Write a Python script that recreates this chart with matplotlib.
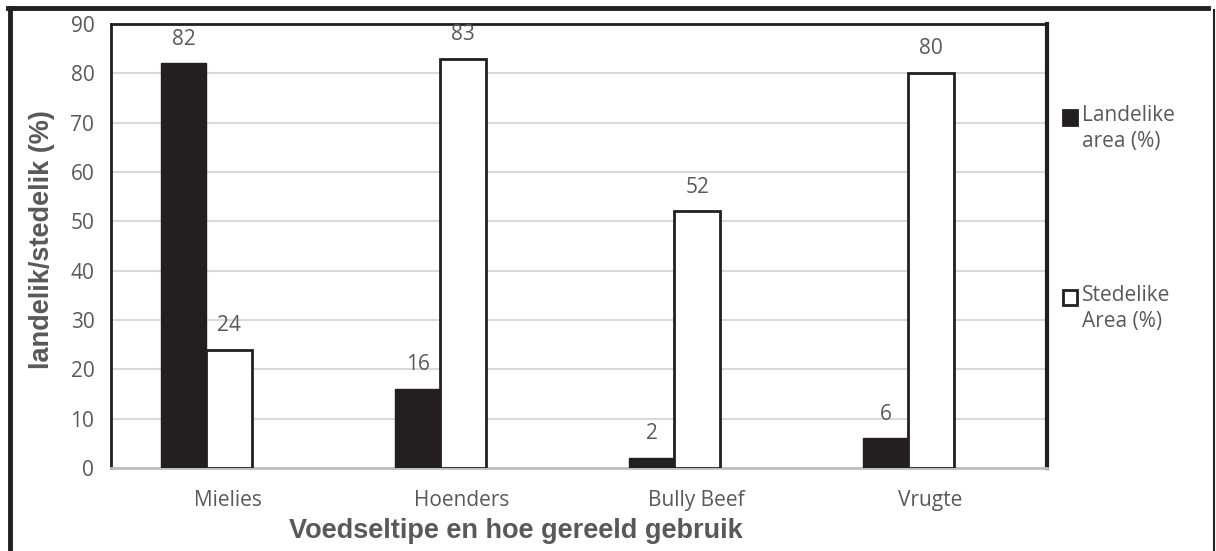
import numpy as np
import matplotlib.pyplot as plt
from matplotlib.lines import Line2D
from matplotlib.patches import Rectangle

categories = ["Mielies", "Hoenders", "Bully Beef", "Vrugte"]
landelik = [82, 16, 2, 6]
stedelik = [24, 83, 52, 80]
series_names = ["Landelike\narea (%)", "Stedelike\nArea (%)"]

W, H = 1216, 551
fig = plt.figure(figsize=(W / 100, H / 100), dpi=100)
ax = fig.add_axes([111 / W, 1 - 468 / H, (1047 - 111) / W, (468 - 24) / H])

dark = "#231f20"
gray = "#595959"
x = np.arange(len(categories))
bw = 0.195

# the bar pair sits a bit left of the category label, as in the original
b1 = ax.bar(x - 0.19, landelik, bw, color=dark, edgecolor=dark, linewidth=1, zorder=3)
b2 = ax.bar(x + 0.005, stedelik, bw, color="white", edgecolor=dark, linewidth=2, zorder=3)

for bars, vals in ((b1, landelik), (b2, stedelik)):
    for rect, v in zip(bars, vals):
        ax.annotate(str(v), (rect.get_x() + rect.get_width() / 2, v),
                    xytext=(0, 10), textcoords="offset points",
                    ha="center", va="bottom", fontsize=15, color=gray,
                    family="Open Sans")

ax.set_xlim(-0.5, len(categories) - 0.5)
ax.set_ylim(0, 90)
ax.set_yticks(range(0, 91, 10))
ax.set_xticks(x)
ax.set_xticklabels(categories)
ax.tick_params(length=0, labelsize=15, labelcolor=gray, pad=12)
ax.tick_params(axis="x", pad=16)
for lab in ax.get_xticklabels() + ax.get_yticklabels():
    lab.set_family("Open Sans")
ax.yaxis.grid(True, color="#d9d9d9", linewidth=1.5, zorder=0)
ax.set_axisbelow(True)

ax.spines["left"].set_linewidth(2)
ax.spines["top"].set_linewidth(2)
ax.spines["right"].set_linewidth(3)
for s in ("left", "top", "right"):
    ax.spines[s].set_color(dark)
ax.spines["bottom"].set_color("#bfbfbf")
ax.spines["bottom"].set_linewidth(2)

fig.text(516 / W, 1 - 531 / H, "Voedseltipe en hoe gereeld gebruik",
         ha="center", va="center", fontsize=19.5, fontweight="bold",
         color=gray, family="Liberation Sans")
fig.text(42 / W, 1 - 240 / H, "landelik/stedelik (%)", rotation=90,
         ha="center", va="center", fontsize=19.5, fontweight="bold",
         color=gray, family="Liberation Sans")

# legend drawn by hand so the square sits on the first text line
leg_y = [117, 297]
faces = [dark, "white"]
for name, yy, fc in zip(series_names, leg_y, faces):
    fig.patches.append(Rectangle((1063 / W, 1 - (yy + 8) / H), 14 / W, 15 / H,
                                 transform=fig.transFigure, facecolor=fc,
                                 edgecolor=dark, linewidth=2))
    fig.text(1082 / W, 1 - (yy - 12) / H, name, ha="left", va="top",
             fontsize=15, color=gray, family="Open Sans", linespacing=1.3)

# outer frame
fig.lines.append(Line2D([10 / W, 10 / W], [1 - 8 / H, 0], transform=fig.transFigure,
                        color=dark, linewidth=3.5))
fig.lines.append(Line2D([8 / W, 1208 / W], [1 - 8 / H, 1 - 8 / H], transform=fig.transFigure,
                        color=dark, linewidth=3.5))
fig.lines.append(Line2D([1214 / W, 1214 / W], [1 - 10 / H, 0], transform=fig.transFigure,
                        color=dark, linewidth=1.5))

fig.savefig("out.png", dpi=100)
